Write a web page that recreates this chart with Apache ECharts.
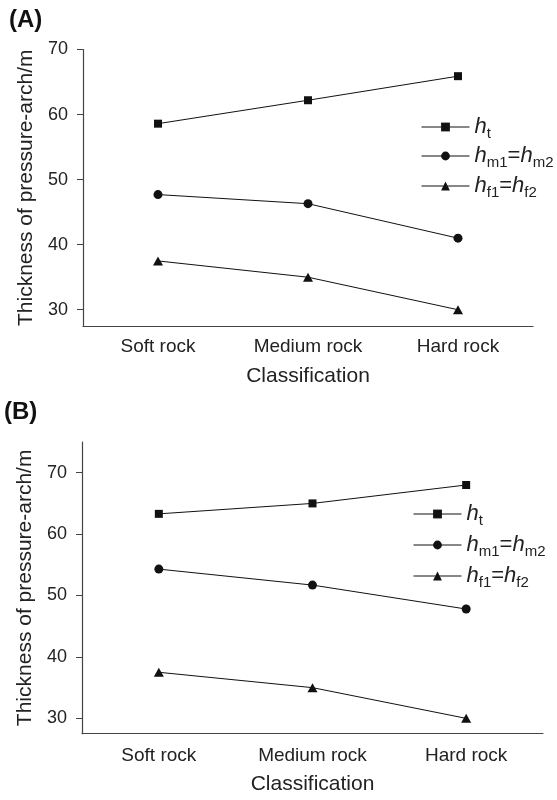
<!DOCTYPE html>
<html><head><meta charset="utf-8">
<script src="https://cdn.jsdelivr.net/npm/echarts@6/dist/echarts.min.js"></script>
<style>html,body{margin:0;padding:0;background:#fff}#c{width:557px;height:800px}</style>
</head><body><div id="c"></div>
<script>
const categories = ['Soft rock', 'Medium rock', 'Hard rock'];
const htA = [58.6, 62.2, 65.9];
const hmA = [47.7, 46.3, 41.0];
const hfA = [37.5, 35.0, 30.0];
const htB = [63.3, 65.0, 68.0];
const hmB = [54.3, 51.7, 47.8];
const hfB = [37.5, 35.0, 30.0];
const yTicks = [30, 40, 50, 60, 70];
const legendLabels = {
  ht: '{i|h}{s|t}',
  hm: '{i|h}{s|m1}{n|=}{i|h}{s|m2}',
  hf: '{i|h}{s|f1}{n|=}{i|h}{s|f2}'
};

const FONT = 'Liberation Sans, Arial, Helvetica, sans-serif';
const TXT = '#222';
const AX = '#444';
const symbols = { ht: ['rect', 8], hm: ['circle', 9], hf: ['triangle', [10, 9]] };

const chart = echarts.init(document.getElementById('c'));

function xAxisOpt(gi, margin, gap) {
  return {
    type: 'category', gridIndex: gi, data: categories, boundaryGap: true,
    axisLine: { lineStyle: { color: AX, width: 1.2 } },
    axisTick: { alignWithLabel: true, length: 5, lineStyle: { color: AX } },
    axisLabel: { color: TXT, fontFamily: FONT, fontSize: 19, margin: margin },
    name: 'Classification', nameLocation: 'middle', nameGap: gap,
    nameTextStyle: { color: TXT, fontFamily: FONT, fontSize: 21 }
  };
}
function yAxisOpt(gi, max) {
  return {
    type: 'value', gridIndex: gi, min: 27.5, max: max,
    axisLine: { show: true, lineStyle: { color: AX, width: 1.2 } },
    axisTick: { show: true, length: 6, customValues: yTicks, lineStyle: { color: AX } },
    axisLabel: { color: TXT, fontFamily: FONT, fontSize: 18, margin: 15, customValues: yTicks },
    splitLine: { show: false },
    name: 'Thickness of pressure-arch/m', nameLocation: 'middle', nameGap: 45,
    nameTextStyle: { color: TXT, fontFamily: FONT, fontSize: 21 }
  };
}
function mkSeries(name, data, gi) {
  return {
    type: 'line', name: name, xAxisIndex: gi, yAxisIndex: gi, data: data,
    symbol: symbols[name][0], symbolSize: symbols[name][1],
    lineStyle: { color: '#111', width: 1 }, itemStyle: { color: '#111' },
    emphasis: { disabled: true }, animation: false
  };
}
function mkLegend(name, left, y) {
  return {
    data: [name], left: left, top: y - 12, orient: 'horizontal', padding: 0,
    itemWidth: 48, itemHeight: 11, itemGap: 0,
    lineStyle: { width: 1, color: '#111' },
    formatter: function (n) { return legendLabels[n]; },
    textStyle: {
      color: TXT, fontFamily: FONT,
      rich: {
        i: { fontStyle: 'italic', fontSize: 22, lineHeight: 22, verticalAlign: 'top', fontFamily: FONT, color: TXT },
        n: { fontSize: 22, lineHeight: 22, verticalAlign: 'top', fontFamily: FONT, color: TXT },
        s: { fontSize: 15, lineHeight: 15, padding: [10, 0, 0, 0], verticalAlign: 'top', fontFamily: FONT, color: TXT }
      }
    },
    selectedMode: false
  };
}

const option = {
  backgroundColor: '#fff',
  animation: false,
  title: [
    { text: '(A)', left: 4, top: 3, textStyle: { fontFamily: FONT, fontWeight: 'bold', fontSize: 24, color: '#111' } },
    { text: '(B)', left: -1, top: 395, textStyle: { fontFamily: FONT, fontWeight: 'bold', fontSize: 24, color: '#111' } }
  ],
  grid: [
    { left: 83, right: 24, top: 49.5, height: 276.5 },
    { left: 82, right: 14, top: 442, height: 291.7 }
  ],
  xAxis: [xAxisOpt(0, 11, 40), xAxisOpt(1, 13, 40)],
  yAxis: [yAxisOpt(0, 70), yAxisOpt(1, 75)],
  legend: [
    mkLegend('ht', 421, 128), mkLegend('hm', 421, 157), mkLegend('hf', 421, 187),
    mkLegend('ht', 413, 515), mkLegend('hm', 413, 546), mkLegend('hf', 413, 577)
  ],
  series: [
    mkSeries('ht', htA, 0), mkSeries('hm', hmA, 0), mkSeries('hf', hfA, 0),
    mkSeries('ht', htB, 1), mkSeries('hm', hmB, 1), mkSeries('hf', hfB, 1)
  ]
};
chart.setOption(option);
</script></body></html>
